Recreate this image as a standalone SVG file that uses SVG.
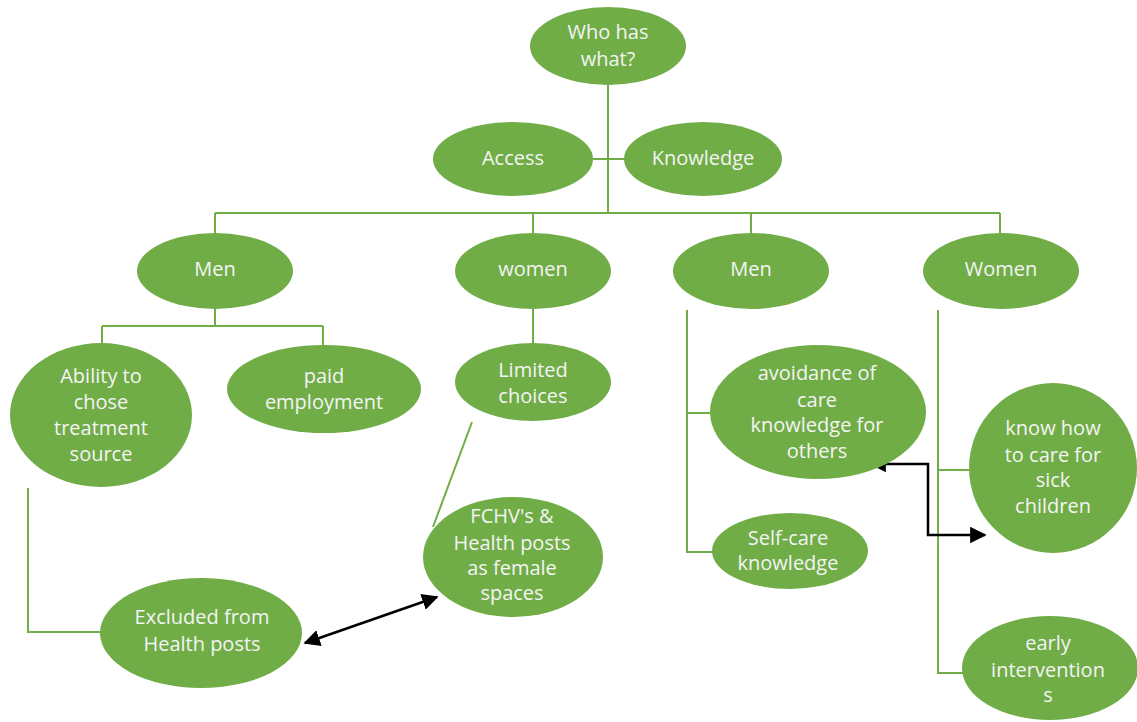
<svg xmlns="http://www.w3.org/2000/svg" width="1137" height="722" viewBox="0 0 1137 722">
  <style>
    .node ellipse { fill: #70ad47; }
    .node text { fill: #f4f4f4; font-family: "Open Sans", "Liberation Sans", sans-serif; font-size: 20px; text-anchor: middle; }
    .tree { fill: none; stroke: #70ad47; stroke-width: 2; }
    .link { fill: none; stroke: #000; stroke-width: 2.5; }
  </style>
  <defs>
    <marker id="head" viewBox="0 0 10 10" refX="9" refY="5" markerWidth="6.6" markerHeight="6.6" orient="auto-start-reverse" markerUnits="strokeWidth">
      <path d="M0,0 L10,5 L0,10 z" fill="#000"/>
    </marker>
  </defs>
  <rect width="1137" height="722" fill="#fff"/>

  <!-- connectors -->
  <g id="connectors">
    <path class="tree" d="M608,85 V213 M215,213 H1000 M215,213 V233 M533,213 V233 M751,213 V233 M1000,213 V233"/>
    <path class="tree" d="M593,159 H625"/>
    <path class="tree" d="M215,309 V326 M102,326 H323 M102,326 V345 M323,326 V346"/>
    <path class="tree" d="M28,488 V632 H101"/>
    <path class="tree" d="M533,309 V343"/>
    <path class="tree" d="M472,422 L433,527"/>
    <path class="tree" d="M687,310 V552 H713 M687,413 H710"/>
    <path class="tree" d="M938,310 V673 H963 M938,470 H969"/>
    <path class="link" d="M305,643 L437,597" marker-start="url(#head)" marker-end="url(#head)"/>
    <path class="link" d="M871,464 H928 V535 H985" marker-start="url(#head)" marker-end="url(#head)"/>
  </g>

  <g id="who" class="node">
    <ellipse cx="608" cy="46" rx="78" ry="39"/>
    <text x="608" y="39">Who has</text>
    <text x="608" y="66">what?</text>
  </g>
  <g id="access" class="node">
    <ellipse cx="513" cy="159" rx="80" ry="37"/>
    <text x="513" y="165">Access</text>
  </g>
  <g id="knowledge" class="node">
    <ellipse cx="703" cy="159" rx="79" ry="37"/>
    <text x="703" y="165">Knowledge</text>
  </g>

  <g id="men-access" class="node">
    <ellipse cx="215" cy="271" rx="78" ry="38"/>
    <text x="215" y="276">Men</text>
  </g>
  <g id="women-access" class="node">
    <ellipse cx="533" cy="271" rx="78" ry="38"/>
    <text x="533" y="276">women</text>
  </g>
  <g id="men-knowledge" class="node">
    <ellipse cx="751" cy="271" rx="78" ry="38"/>
    <text x="751" y="276">Men</text>
  </g>
  <g id="women-knowledge" class="node">
    <ellipse cx="1001" cy="271" rx="78" ry="38"/>
    <text x="1001" y="276">Women</text>
  </g>

  <g id="ability" class="node">
    <ellipse cx="101" cy="415" rx="91" ry="72"/>
    <text x="101" y="383">Ability to</text>
    <text x="101" y="409">chose</text>
    <text x="101" y="435">treatment</text>
    <text x="101" y="461">source</text>
  </g>
  <g id="paid" class="node">
    <ellipse cx="324" cy="389" rx="97" ry="44"/>
    <text x="324" y="383">paid</text>
    <text x="324" y="409">employment</text>
  </g>
  <g id="limited" class="node">
    <ellipse cx="533" cy="382" rx="78" ry="39"/>
    <text x="533" y="377">Limited</text>
    <text x="533" y="403">choices</text>
  </g>
  <g id="excluded" class="node">
    <ellipse cx="201" cy="633" rx="101" ry="55"/>
    <text x="202" y="624">Excluded from</text>
    <text x="202" y="651">Health posts</text>
  </g>
  <g id="fchv" class="node">
    <ellipse cx="513" cy="557" rx="90" ry="60"/>
    <text x="512" y="523">FCHV's &amp;</text>
    <text x="512" y="550">Health posts</text>
    <text x="512" y="575">as female</text>
    <text x="512" y="600">spaces</text>
  </g>

  <g id="avoidance" class="node">
    <ellipse cx="818" cy="412" rx="108" ry="67"/>
    <text x="817" y="380">avoidance of</text>
    <text x="817" y="407">care</text>
    <text x="817" y="432">knowledge for</text>
    <text x="817" y="458">others</text>
  </g>
  <g id="selfcare" class="node">
    <ellipse cx="790" cy="551" rx="78" ry="38"/>
    <text x="788" y="545">Self-care</text>
    <text x="788" y="570">knowledge</text>
  </g>
  <g id="knowhow" class="node">
    <ellipse cx="1053" cy="468" rx="84" ry="85"/>
    <text x="1053" y="435">know how</text>
    <text x="1053" y="462">to care for</text>
    <text x="1053" y="487">sick</text>
    <text x="1053" y="513">children</text>
  </g>
  <g id="early" class="node">
    <ellipse cx="1050" cy="668" rx="88" ry="52"/>
    <text x="1048" y="650">early</text>
    <text x="1048" y="677">intervention</text>
    <text x="1048" y="702">s</text>
  </g>
</svg>
